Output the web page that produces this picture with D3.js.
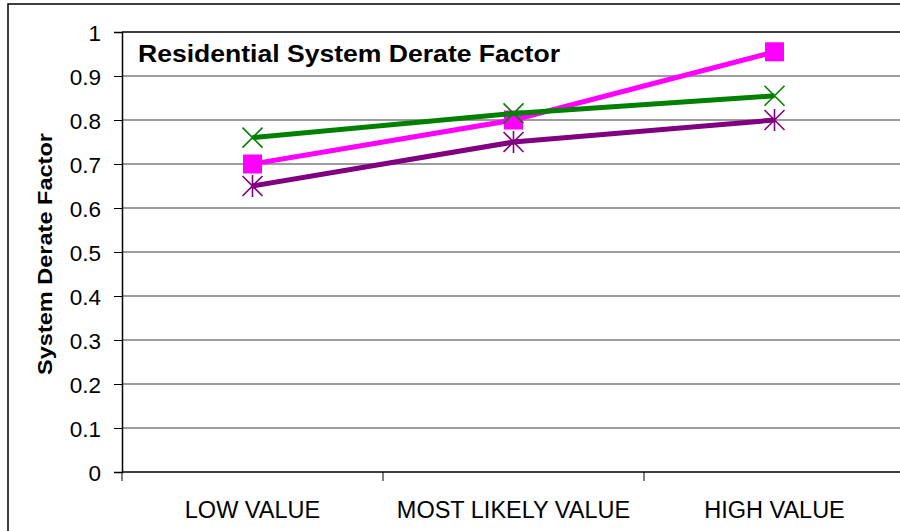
<!DOCTYPE html>
<html>
<head>
<meta charset="utf-8">
<script src="https://cdn.jsdelivr.net/npm/d3@7"></script>
<style>
  html, body { margin: 0; padding: 0; background: #fff; }
  svg { display: block; }
  text { font-family: Arial, "Liberation Sans", sans-serif; fill: #000; }
</style>
</head>
<body>
<svg id="chart" width="900" height="531"></svg>
<script>
// Categories along the x axis
const categories = ["LOW VALUE", "MOST LIKELY VALUE", "HIGH VALUE"];

// Derate factor estimates per scenario
const greenSeries = [0.76, 0.815, 0.855];
const magentaSeries = [0.70, 0.80, 0.955];
const purpleSeries = [0.65, 0.75, 0.80];

// Y axis tick values
const yTicks = [0, 0.1, 0.2, 0.3, 0.4, 0.5, 0.6, 0.7, 0.8, 0.9, 1];

const titleText = "Residential System Derate Factor";
const yTitleText = "System Derate Factor";

const svg = d3.select("#chart");

// Outer chart frame (runs past the right and bottom edges)
svg.append("rect")
  .attr("x", 8).attr("y", 4)
  .attr("width", 1000).attr("height", 1000)
  .attr("fill", "none").attr("stroke", "#000").attr("stroke-width", 1.5);

const plot = { left: 122, right: 905, top: 32, bottom: 472 };

const x = d3.scaleBand().domain(categories).range([plot.left, plot.right]).padding(0);
const y = d3.scaleLinear().domain([0, 1]).range([plot.bottom, plot.top]);

// Horizontal gridlines
svg.append("g").selectAll("line")
  .data(yTicks.filter(d => d > 0 && d < 1))
  .join("line")
  .attr("x1", plot.left).attr("x2", plot.right)
  .attr("y1", d => y(d)).attr("y2", d => y(d))
  .attr("stroke", "#3a3a3a").attr("stroke-width", 1.1);

// Plot frame top
svg.append("line")
  .attr("x1", plot.left).attr("x2", plot.right)
  .attr("y1", y(1)).attr("y2", y(1))
  .attr("stroke", "#000").attr("stroke-width", 1.5);

// Y axis
const yAxis = d3.axisLeft(y).tickValues(yTicks).tickSize(8).tickPadding(13)
  .tickFormat(d => d3.format("")(d));
const gy = svg.append("g").attr("transform", `translate(${plot.left},0)`).call(yAxis);
gy.select(".domain").attr("stroke", "#000").attr("stroke-width", 1.5);
gy.selectAll(".tick line").attr("stroke", "#000").attr("stroke-width", 1);
gy.selectAll(".tick text")
  .style("font-family", "Arial, 'Liberation Sans', sans-serif")
  .style("font-size", "22.5px").attr("fill", "#000").attr("dy", "0.36em");

// X axis with boundary ticks between categories
const gx = svg.append("g").attr("transform", `translate(0,${plot.bottom})`);
gx.append("line")
  .attr("x1", plot.left).attr("x2", plot.right)
  .attr("stroke", "#000").attr("stroke-width", 1.5);
gx.selectAll("line.bt")
  .data(categories)
  .join("line").attr("class", "bt")
  .attr("x1", d => x(d)).attr("x2", d => x(d))
  .attr("y1", 0).attr("y2", 9)
  .attr("stroke", "#000").attr("stroke-width", 1);
gx.selectAll("text")
  .data(categories)
  .join("text")
  .attr("x", d => x(d) + x.bandwidth() / 2)
  .attr("y", 46)
  .attr("text-anchor", "middle")
  .style("font-size", "23.5px")
  .text(d => d);

// Series definitions
const series = [
  { values: purpleSeries, color: "#800080", marker: "star" },
  { values: magentaSeries, color: "#FF00FF", marker: "square" },
  { values: greenSeries, color: "#008000", marker: "cross" }
];

const line = d3.line()
  .x((d, i) => x(categories[i]) + x.bandwidth() / 2)
  .y(d => y(d));

series.forEach(s => {
  const g = svg.append("g");
  g.append("path")
    .datum(s.values)
    .attr("d", line)
    .attr("fill", "none")
    .attr("stroke", s.color)
    .attr("stroke-width", 5);

  const pts = g.selectAll("g.pt")
    .data(s.values)
    .join("g").attr("class", "pt")
    .attr("transform", (d, i) => `translate(${x(categories[i]) + x.bandwidth() / 2},${y(d)})`);

  const r = 10;
  if (s.marker === "square") {
    pts.append("rect")
      .attr("x", -9.5).attr("y", -9.5).attr("width", 19).attr("height", 19)
      .attr("fill", s.color);
  } else {
    pts.append("path")
      .attr("d", `M${-r},${-r}L${r},${r}M${-r},${r}L${r},${-r}` +
        (s.marker === "star" ? `M0,${-r - 1}L0,${r + 1}` : ""))
      .attr("stroke", s.color).attr("stroke-width", 1.6).attr("fill", "none");
  }
});

// Chart title
svg.append("text")
  .attr("x", 138).attr("y", 62)
  .style("font-size", "24px").style("font-weight", "bold")
  .attr("textLength", 422).attr("lengthAdjust", "spacingAndGlyphs")
  .text(titleText);

// Y axis title
svg.append("text")
  .attr("transform", "translate(52,254) rotate(-90)")
  .attr("text-anchor", "middle")
  .style("font-size", "21px").style("font-weight", "bold")
  .attr("textLength", 242).attr("lengthAdjust", "spacingAndGlyphs")
  .text(yTitleText);
</script>
</body>
</html>
